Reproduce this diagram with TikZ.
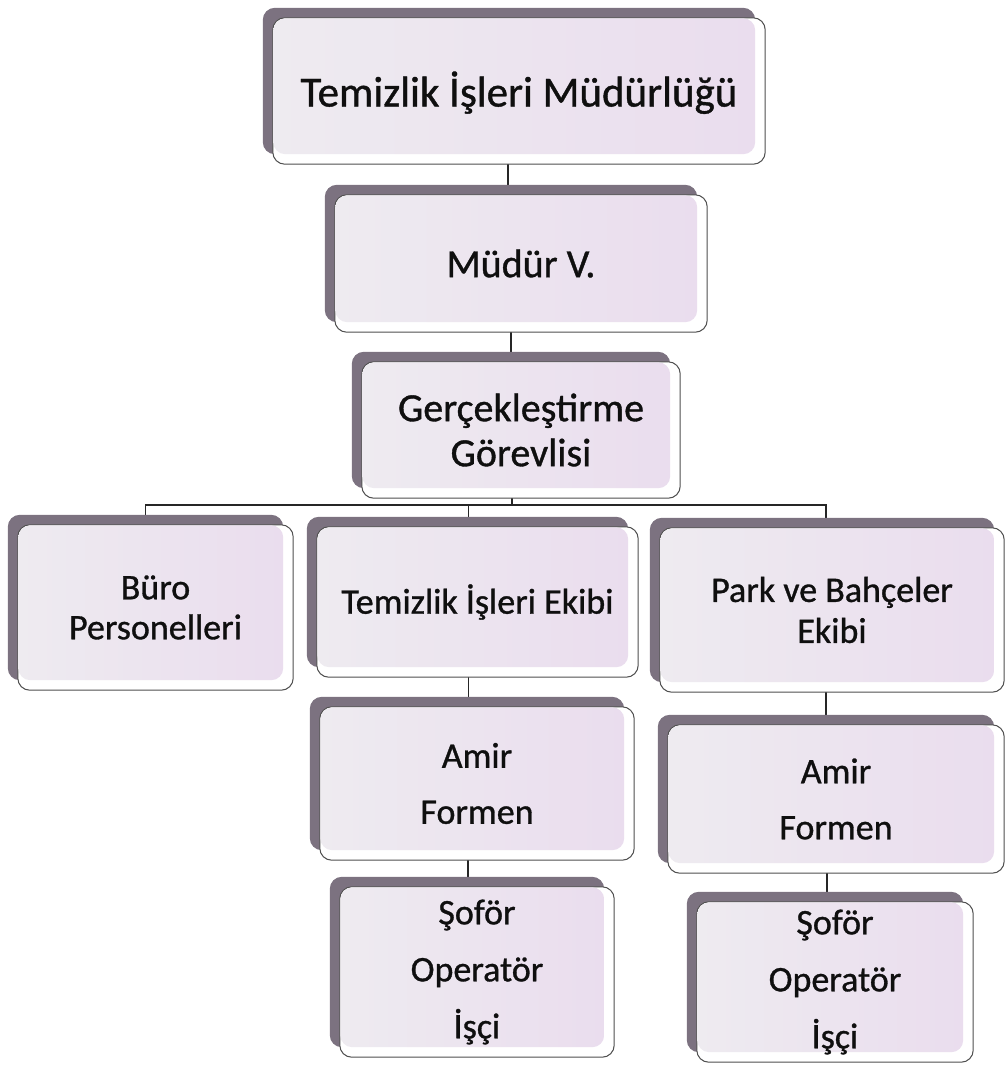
\documentclass[tikz,border=0pt]{standalone}
\usepackage{fontspec}
\setmainfont{Carlito}[FakeBold=0.9]
\usetikzlibrary{backgrounds}

\definecolor{cardshadow}{RGB}{124,114,128}
\definecolor{cardleft}{RGB}{238,235,240}
\definecolor{cardright}{RGB}{234,221,238}
\definecolor{cardedge}{RGB}{80,80,80}
\definecolor{cardtext}{RGB}{15,15,15}

\tikzset{
  card/.style={inner sep=0pt, align=center, text=cardtext},
  link/.style={draw=black!85, line width=1.6pt},
}

\begin{document}
\begin{tikzpicture}[x=1pt, y=-1pt]
    \useasboundingbox (0,0) rectangle (1006,1066);

    % Upper chain
    \node[card, minimum width=492pt, minimum height=146pt, text depth=4pt, font=\fontsize{43}{50}\selectfont] (mudurluk) at (519,91) {Temizlik İşleri Müdürlüğü};
    \node[card, minimum width=372pt, minimum height=137pt, font=\fontsize{40}{48}\selectfont] (mudurv) at (521,263.5) {Müdür V.};
    \node[card, minimum width=318pt, minimum height=136pt, font=\fontsize{40}{45}\selectfont] (gerc) at (521,430) {Gerçekleştirme\\Görevlisi};

    % Second row
    \node[card, minimum width=275pt, minimum height=165pt, font=\fontsize{36}{40}\selectfont] (buro) at (155.5,607.5) {Büro\\Personelleri};
    \node[card, minimum width=321pt, minimum height=150pt, font=\fontsize{36}{40}\selectfont] (ekip) at (477.5,602) {Temizlik İşleri Ekibi};
    \node[card, minimum width=344pt, minimum height=164pt, font=\fontsize{36}{41}\selectfont] (park) at (832,610) {Park ve Bahçeler\\Ekibi};

    % Lower levels
    \node[card, minimum width=314pt, minimum height=153pt, font=\fontsize{36}{56}\selectfont] (amirL) at (477,783.5) {Amir\\Formen};
    \node[card, minimum width=274pt, minimum height=170pt, font=\fontsize{36}{57}\selectfont] (soforL) at (477,972) {Şoför\\Operatör\\İşçi};
    \node[card, minimum width=336pt, minimum height=148pt, font=\fontsize{36}{56}\selectfont] (amirR) at (836,799) {Amir\\Formen};
    \node[card, minimum width=276pt, minimum height=160pt, font=\fontsize{36}{57}\selectfont] (soforR) at (835,982) {Şoför\\Operatör\\İşçi};

    \coordinate (bus) at (512,505);

    \begin{scope}[on background layer]
      % connectors
      \draw[link] ([xshift=-11pt]mudurluk.south) -- ([xshift=-11pt]mudurluk.south |- mudurv.north);
      \draw[link] ([xshift=-10pt]mudurv.south) -- ([xshift=-10pt]mudurv.south |- gerc.north);
      \draw[link] ([xshift=-9pt]gerc.south) -- (bus);
      \draw[link] ([xshift=-10pt]buro.north) |- (bus) -| ([xshift=-6pt]park.north);
      \draw[link] ([xshift=-9pt]ekip.north) -- ([xshift=-9pt]ekip.north |- bus);
      \draw[link] ([xshift=-9pt]ekip.south) -- ([xshift=-9pt]ekip.south |- amirL.north);
      \draw[link] ([xshift=-9pt]amirL.south) -- ([xshift=-9pt]amirL.south |- soforL.north);
      \draw[link] ([xshift=-6pt]park.south) -- ([xshift=-6pt]park.south |- amirR.north);
      \draw[link] ([xshift=-9pt]amirR.south) -- ([xshift=-9pt]amirR.south |- soforR.north);

      % cards: shadow, white frame, tinted face
      \foreach \n in {mudurluk, mudurv, gerc, buro, ekip, park, amirL, soforL, amirR, soforR} {
        \fill[cardshadow, rounded corners=12pt] ([shift={(-10pt,10pt)}]\n.north west) rectangle ([shift={(-10pt,10pt)}]\n.south east);
        \draw[cardedge, fill=white, line width=1pt, rounded corners=12pt] (\n.north west) rectangle (\n.south east);
        \shade[left color=cardleft, right color=cardright, rounded corners=12pt] ([shift={(0.5pt,-0.5pt)}]\n.north west) rectangle ([shift={(-10pt,10pt)}]\n.south east);
      }
    \end{scope}
\end{tikzpicture}
\end{document}
